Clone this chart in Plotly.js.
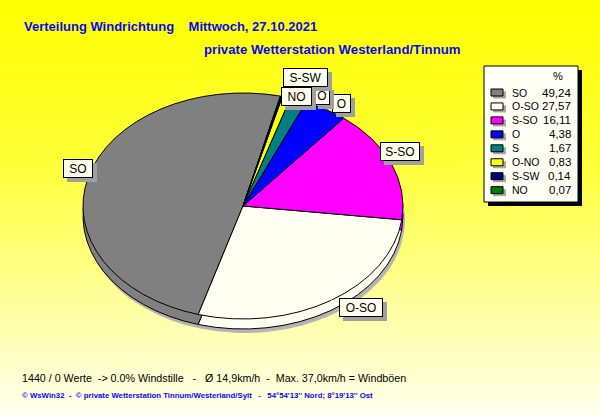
<!DOCTYPE html>
<html>
<head>
<meta charset="utf-8">
<script src="https://cdn.plot.ly/plotly-3.0.1.min.js"></script>
<style>
  html, body { margin: 0; padding: 0; }
  #chart { width: 600px; height: 415px; background: linear-gradient(#ffff00 0%, #ffff3a 40%, #ffffee 100%); }
</style>
</head>
<body>
<div id="chart"></div>
<script>
/* global Plotly */

// wind direction shares in percent (slices run counterclockwise from the top)
const directions = ['SO', 'O-SO', 'S-SO', 'O', 'S', 'O-NO', 'S-SW', 'NO']
const shares = [49.24, 27.57, 16.11, 4.38, 1.67, 0.83, 0.14, 0.07]
const sliceColors = ['#808080', '#fffff2', '#ff00ff', '#0000ff', '#008080', '#ffff00', '#000080', '#008000']

// labels shown next to the pie: slice index, text, box centre and size in pixels
const labelSlices = [0, 1, 2, 3, 5, 6, 7]
const labelTexts = ['SO', 'O-SO', 'S-SO', 'O', 'O', 'S-SW', 'NO']
const labelX = [63, 361, 420, 342, 322, 305, 296]
const labelY = [168, 317, 151, 94, 86, 68, 87]
const labelW = [30, 44, 40, 19, 16, 45, 31]
const leaderCount = 4

const titleText = 'Verteilung Windrichtung\u00a0\u00a0\u00a0 Mittwoch, 27.10.2021'
const subtitleText = 'private Wetterstation Westerland/Tinnum'
const infoText = '1440 / 0 Werte\u00a0 -> 0.0% Windstille\u00a0\u00a0 -\u00a0\u00a0 Ø 14,9km/h\u00a0 -\u00a0 Max. 37,0km/h = Windböen'
const footerText = '© WsWin32\u00a0 -\u00a0 © private Wetterstation Tinnum/Westerland/Sylt\u00a0\u00a0 -\u00a0\u00a0 54°54\'13\'\' Nord; 8°19\'13\'\' Ost'

const W = 600
const H = 415
const CX = 243
const CY = 206
const RX = 160
const RY = 113
const DEPTH = 10
const START = 13.5 // where SO begins, degrees clockwise from 12 o'clock
const FONT = 'Liberation Sans, Arial, sans-serif'
const BLUE = '#0808f0'
const LABEL_H = 19

const px = x => x / W
const py = y => 1 - y / H
const fmt = v => v.toFixed(2).replace('.', ',')

const total = shares.reduce((a, b) => a + b, 0)
// plotly puts the first slice clockwise of `rotation` when going counterclockwise
const rotation = START - shares[0] / total * 360

// point on the rim of the (flattened) pie at the middle of each slice
let acc = 0
const rimPoints = shares.map(v => {
  const mid = (START - (acc + v / 2) / total * 360) * Math.PI / 180
  acc += v
  return { x: CX + RX * Math.sin(mid), y: CY - RY * Math.cos(mid) }
})

const pieBase = {
  type: 'pie',
  values: shares,
  labels: directions,
  sort: false,
  direction: 'counterclockwise',
  rotation: rotation,
  textinfo: 'none',
  hoverinfo: 'skip',
  showlegend: false,
  domain: { x: [px(CX - RX), px(CX + RX)], y: [py(CY + RX), py(CY - RX)] }
}

const traces = [
  Object.assign({}, pieBase, { marker: { colors: shares.map(() => '#b4b4b4'), line: { width: 0 } } }),
  Object.assign({}, pieBase, { marker: { colors: sliceColors, line: { color: '#000', width: 1 } } }),
  Object.assign({}, pieBase, { marker: { colors: sliceColors, line: { color: '#000', width: 1 } } })
]

const shapes = []
const annotations = []

// leader lines from label boxes to the rim
for (let i = 0; i < leaderCount; i++) {
  const p = rimPoints[labelSlices[i]]
  shapes.push({
    type: 'line', xref: 'paper', yref: 'paper',
    x0: px(labelX[i]), y0: py(labelY[i]), x1: px(p.x), y1: py(p.y),
    line: { color: '#ffffff', width: 1 }
  })
}

// slice labels with drop shadow
labelTexts.forEach((t, i) => {
  const common = {
    xref: 'paper', yref: 'paper', x: px(labelX[i]), y: py(labelY[i]),
    showarrow: false, borderpad: 1, borderwidth: 1,
    width: labelW[i] - 4, height: LABEL_H - 4
  }
  annotations.push(Object.assign({}, common, {
    text: '\u00a0', xshift: 4, yshift: -4, bgcolor: '#a0a0a0', bordercolor: '#a0a0a0',
    font: { family: FONT, size: 12, color: '#a0a0a0' }
  }))
  annotations.push(Object.assign({}, common, {
    text: t, bgcolor: '#ffffee', bordercolor: '#000',
    font: { family: FONT, size: 12, color: '#000' }
  }))
})

// legend box
const LX0 = 484, LY0 = 66, LX1 = 578, LY1 = 202
shapes.push({ type: 'rect', xref: 'paper', yref: 'paper', x0: px(LX0 + 4), x1: px(LX1 + 4), y0: py(LY0 + 4), y1: py(LY1 + 4), fillcolor: '#000', line: { width: 0 } })
shapes.push({ type: 'rect', xref: 'paper', yref: 'paper', x0: px(LX0), x1: px(LX1), y0: py(LY0), y1: py(LY1), fillcolor: '#fffff4', line: { color: '#000', width: 1 } })
annotations.push({ xref: 'paper', yref: 'paper', x: px(558), y: py(76), xanchor: 'center', yanchor: 'middle', text: '%', showarrow: false, font: { family: FONT, size: 11, color: '#000' } })

directions.forEach((d, i) => {
  const y = 92.5 + i * 13.95
  shapes.push({ type: 'rect', xref: 'paper', yref: 'paper', x0: px(493), x1: px(506), y0: py(y - 1), y1: py(y + 6), fillcolor: '#a8a8a8', line: { width: 0 } })
  shapes.push({ type: 'rect', xref: 'paper', yref: 'paper', x0: px(491), x1: px(503), y0: py(y - 3.5), y1: py(y + 3.5), fillcolor: sliceColors[i], line: { color: '#000', width: 1 } })
  annotations.push({ xref: 'paper', yref: 'paper', x: px(510), y: py(y), xanchor: 'left', yanchor: 'middle', text: d, showarrow: false, font: { family: FONT, size: 10.5, color: '#000' } })
  annotations.push({ xref: 'paper', yref: 'paper', x: px(573), y: py(y), xanchor: 'right', yanchor: 'middle', text: fmt(shares[i]), showarrow: false, font: { family: FONT, size: 11.5, color: '#000' } })
})

// titles and info lines
annotations.push({ xref: 'paper', yref: 'paper', x: px(22), y: py(26), xanchor: 'left', yanchor: 'middle', text: '<b>' + titleText + '</b>', showarrow: false, font: { family: FONT, size: 13, color: BLUE } })
annotations.push({ xref: 'paper', yref: 'paper', x: px(202), y: py(50), xanchor: 'left', yanchor: 'middle', text: '<b>' + subtitleText + '</b>', showarrow: false, font: { family: FONT, size: 13.2, color: BLUE } })
annotations.push({ xref: 'paper', yref: 'paper', x: px(20), y: py(378), xanchor: 'left', yanchor: 'middle', text: infoText, showarrow: false, font: { family: FONT, size: 10.7, color: '#000' } })
annotations.push({ xref: 'paper', yref: 'paper', x: px(20), y: py(395), xanchor: 'left', yanchor: 'middle', text: '<b>' + footerText + '</b>', showarrow: false, font: { family: FONT, size: 7.8, color: BLUE } })

const layout = {
  width: W,
  height: H,
  margin: { l: 0, r: 0, t: 0, b: 0 },
  paper_bgcolor: 'rgba(0,0,0,0)',
  plot_bgcolor: 'rgba(0,0,0,0)',
  showlegend: false,
  shapes: shapes,
  annotations: annotations
}

Plotly.newPlot('chart', traces, layout, { staticPlot: true, displayModeBar: false }).then(gd => {
  // flatten the pies into ellipses and stack them to fake the 3D body and its shadow
  const shifts = [[2, DEPTH + 4], [0, DEPTH], [0, 0]]
  gd.querySelectorAll('.pielayer .trace').forEach((g, i) => {
    const cd = gd.calcdata[i][0]
    const sx = RX / cd.r
    const sy = RY / cd.r
    const tx = shifts[i][0] + CX - sx * cd.cx
    const ty = shifts[i][1] + CY - sy * cd.cy
    g.setAttribute('transform', 'translate(' + tx + ',' + ty + ') scale(' + sx + ',' + sy + ')')
    g.querySelectorAll('path').forEach(p => { p.style.vectorEffect = 'non-scaling-stroke' })
  })
})
</script>
</body>
</html>
